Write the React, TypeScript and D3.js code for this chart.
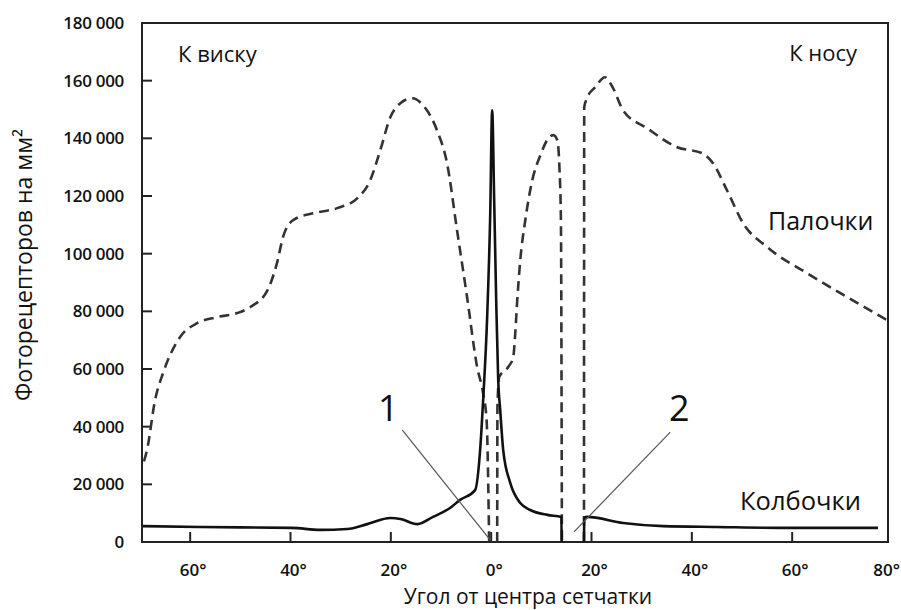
import { useEffect, useRef } from 'react';
import * as d3 from 'd3';

const WIDTH = 901;
const HEIGHT = 610;
const PLOT = { left: 142, right: 888, top: 23, bottom: 542 };
const FONT = '"Open Sans", "Noto Sans", sans-serif';

// angle (deg, negative = к виску), density in thousands per mm²
const rodsTemporal: [number, number][] = [
  [-69.2, 28], [-68.6, 31.9], [-67.0, 49.2], [-65.4, 58.6], [-62.0, 71.1], [-58.6, 75.9],
  [-54.6, 78.0], [-50.6, 79.4], [-48.0, 81.5], [-44.6, 87.3], [-42.7, 96.7], [-41.5, 105.7],
  [-39.5, 111.6], [-35.5, 114.0], [-30.7, 115.8], [-26.7, 119.2], [-24.1, 125.5], [-22.1, 135.9],
  [-20.1, 147.3], [-18.1, 152.2], [-15.7, 153.9], [-13.6, 151.5], [-10.8, 142.8], [-8.8, 131.4],
  [-6.8, 108.1], [-4.8, 84.9], [-2.8, 60.7], [-1.6, 51.6], [-0.9, 42], [-0.4, 0],
];
const rodsFovea: [number, number][] = [
  [1.2, 0], [1.25, 46.8], [1.6, 57.2], [3.4, 60.7], [4.4, 64.1], [4.8, 72.4], [5.2, 83.9],
  [5.8, 97.7], [6.8, 111.6], [8.2, 125.5], [9.8, 134.1], [11.4, 140.0], [12.4, 141.1],
  [13.2, 139.3], [13.6, 130], [13.9, 112], [14.1, 0],
];
const rodsNasal: [number, number][] = [
  [18.5, 0], [18.55, 150.8], [19.1, 153.9], [20.7, 157.7], [22.7, 161.2], [24.3, 157.4],
  [26.3, 149.7], [31.1, 143.5], [37.1, 136.9], [42.1, 134.8], [44.2, 131.4], [47.0, 122.0],
  [50.2, 110.6], [55.0, 102.3], [63.0, 93.2], [71.0, 84.9], [78.9, 77.0],
];
const conesTemporal: [number, number][] = [
  [-69.4, 5.5], [-58, 5.2], [-39.7, 4.9], [-34.1, 4.2], [-28.7, 4.5], [-24.7, 6.2], [-20.1, 8.3],
  [-18.1, 8.0], [-14.7, 6.2], [-11.6, 8.7], [-8.2, 11.8], [-6.2, 14.6], [-3.2, 18.0], [-2.2, 31.9],
  [-1.6, 49.2], [-0.8, 78], [-0.2, 112.7], [0.2, 149.7], [0.6, 118.5], [1.0, 83.9], [1.4, 56.2],
  [1.8, 45.8], [2.4, 31.9], [3.8, 20.5], [5.8, 13.5], [7.8, 11.1], [11.2, 9.4], [14.0, 8.7], [14.05, 0],
];
const conesNasal: [number, number][] = [
  [18.5, 0], [18.55, 8.3], [19.1, 8.7], [26.3, 6.6], [34.3, 5.5], [45.0, 5.2], [58.2, 4.9], [77.1, 4.9],
];

const xTicks = [-60, -40, -20, 0, 20, 40, 60, 80];
const yTicks = [0, 20, 40, 60, 80, 100, 120, 140, 160, 180];

// numbered pointers: label position and line ends
const pointers = [
  { label: '1', at: [-20.5, 41.9], from: [-17.7, 38.8], to: [-0.2, 0.7] },
  { label: '2', at: [37.5, 41.9], from: [35.7, 38.1], to: [16.5, 3.5] },
];

export default function App() {
  const svgRef = useRef<SVGSVGElement>(null);

  useEffect(() => {
    const svg = d3.select(svgRef.current);
    svg.selectAll('*').remove();

    const x = d3.scaleLinear().domain([-69.6, 79.1]).range([PLOT.left, PLOT.right]);
    const y = d3.scaleLinear().domain([0, 180]).range([PLOT.bottom, PLOT.top]);

    const line = d3.line<[number, number]>()
      .x((d) => x(d[0]))
      .y((d) => y(d[1]))
      .curve(d3.curveMonotoneX);

    // Frame
    svg.append('rect')
      .attr('x', PLOT.left).attr('y', PLOT.top)
      .attr('width', PLOT.right - PLOT.left).attr('height', PLOT.bottom - PLOT.top)
      .attr('fill', 'none').attr('stroke', '#222').attr('stroke-width', 2);

    // Y ticks (inside) + labels
    const fmt = (v: number) => (v === 0 ? '0' : `${v} 000`);
    yTicks.forEach((t) => {
      if (t > 0 && t < 180) {
        svg.append('line')
          .attr('x1', PLOT.left).attr('x2', PLOT.left + 10)
          .attr('y1', y(t)).attr('y2', y(t))
          .attr('stroke', '#222').attr('stroke-width', 2);
      }
      svg.append('text')
        .attr('x', 124).attr('y', y(t)).attr('dy', '0.36em')
        .attr('text-anchor', 'end')
        .style('font-family', FONT).style('font-size', '17px').style('font-weight', 600)
        .style('letter-spacing', '-0.3px').style('fill', '#111')
        .text(fmt(t));
    });

    // X ticks (inside) + labels
    xTicks.forEach((t) => {
      if (t < 80) {
        svg.append('line')
          .attr('x1', x(t)).attr('x2', x(t))
          .attr('y1', PLOT.bottom).attr('y2', PLOT.bottom - 10)
          .attr('stroke', '#222').attr('stroke-width', 2);
      }
      const last = t === 80;
      svg.append('text')
        .attr('x', last ? WIDTH - 1 : x(t) + 3).attr('y', 576)
        .attr('text-anchor', last ? 'end' : 'middle')
        .style('font-family', FONT).style('font-size', '17px').style('font-weight', 600)
        .style('fill', '#111')
        .text(`${Math.abs(t)}°`);
    });

    // Axis titles
    svg.append('text')
      .attr('x', 528).attr('y', 604)
      .attr('text-anchor', 'middle')
      .style('font-family', FONT).style('font-size', '21px').style('fill', '#111')
      .text('Угол от центра сетчатки');
    svg.append('text')
      .attr('transform', 'translate(32,265) rotate(-90)')
      .attr('text-anchor', 'middle')
      .style('font-family', FONT).style('font-size', '23px').style('fill', '#111')
      .text('Фоторецепторов на мм²');

    // Rods (dashed)
    [rodsTemporal, rodsFovea, rodsNasal].forEach((seg) => {
      svg.append('path')
        .datum(seg)
        .attr('d', line)
        .attr('fill', 'none')
        .attr('stroke', '#333')
        .attr('stroke-width', 2.6)
        .attr('stroke-dasharray', '10,6');
    });

    // Cones (solid)
    [conesTemporal, conesNasal].forEach((seg) => {
      svg.append('path')
        .datum(seg)
        .attr('d', line)
        .attr('fill', 'none')
        .attr('stroke', '#111')
        .attr('stroke-width', 2.6);
    });

    // Pointers 1 and 2
    pointers.forEach((p) => {
      svg.append('line')
        .attr('x1', x(p.from[0])).attr('y1', y(p.from[1]))
        .attr('x2', x(p.to[0])).attr('y2', y(p.to[1]))
        .attr('stroke', '#555').attr('stroke-width', 1.2);
      svg.append('text')
        .attr('x', x(p.at[0])).attr('y', y(p.at[1]))
        .attr('text-anchor', 'middle')
        .style('font-family', FONT).style('font-size', '36px').style('fill', '#111')
        .text(p.label);
    });

    // In-plot labels
    const label = (tx: number, ty: number, s: string, size: number, anchor: string) =>
      svg.append('text')
        .attr('x', tx).attr('y', ty)
        .attr('text-anchor', anchor)
        .style('font-family', FONT).style('font-size', `${size}px`).style('fill', '#111')
        .text(s);
    label(178, 62, 'К виску', 22, 'start');
    label(857, 61, 'К носу', 22, 'end');
    label(768, 230, 'Палочки', 25, 'start');
    label(740, 510, 'Колбочки', 25.5, 'start');
  }, []);

  return (
    <div style={{ position: 'absolute', left: 0, top: 0 }}>
      <svg ref={svgRef} width={WIDTH} height={HEIGHT} style={{ display: 'block', background: '#fff' }} />
    </div>
  );
}
